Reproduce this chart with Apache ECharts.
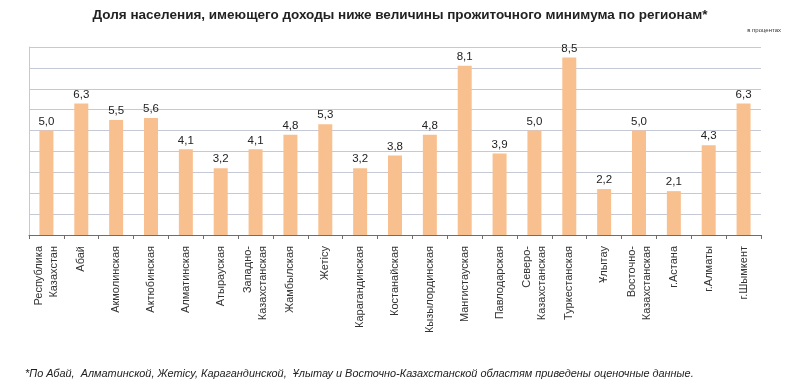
<!DOCTYPE html>
<html><head><meta charset="utf-8">
<script src="https://cdn.jsdelivr.net/npm/echarts@6/dist/echarts.min.js"></script>
<style>html,body{margin:0;padding:0;background:#fff}#c{width:800px;height:385px}</style>
</head><body><div id="c"></div>
<script>
const categories = ['Республика\nКазахстан','Абай','Акмолинская','Актюбинская','Алматинская','Атырауская','Западно-\nКазахстанская','Жамбылская','Жетісу','Карагандинская','Костанайская','Кызылординская','Мангистауская','Павлодарская','Северо-\nКазахстанская','Туркестанская','Ұлытау','Восточно-\nКазахстанская','г.Астана','г.Алматы','г.Шымкент'];
const values = [5.0,6.3,5.5,5.6,4.1,3.2,4.1,4.8,5.3,3.2,3.8,4.8,8.1,3.9,5.0,8.5,2.2,5.0,2.1,4.3,6.3];
const titleText = 'Доля населения, имеющего доходы ниже величины прожиточного минимума по регионам*';
const unitText = 'в процентах';
const footnoteText = '*По Абай,  Алматинской, Жетісу, Карагандинской,  Ұлытау и Восточно-Казахстанской областям приведены оценочные данные.';

const chart = echarts.init(document.getElementById('c'), null, {renderer:'canvas'});
chart.setOption({
  animation:false,
  title:[
    {text:titleText, left:'center', top:3, textStyle:{fontFamily:'Liberation Sans, Arial, sans-serif', fontSize:13.5, fontWeight:'bold', color:'#222'}},
    {text:unitText, right:14, top:22, textStyle:{fontFamily:'Liberation Sans, Arial, sans-serif', fontSize:6, fontWeight:'normal', color:'#333'}},
    {text:footnoteText, left:20, top:363, textStyle:{fontFamily:'Liberation Sans, Arial, sans-serif', fontSize:10.9, fontStyle:'italic', fontWeight:'normal', color:'#222'}}
  ],
  grid:{left:29, right:39, top:47, bottom:150, containLabel:false},
  xAxis:{
    type:'category', data:categories, boundaryGap:true,
    axisLine:{show:true, lineStyle:{color:'#6d6d6d', width:1}},
    axisTick:{show:true, interval:0, length:4, lineStyle:{color:'#6d6d6d'}},
    axisLabel:{interval:0, rotate:90, margin:11, fontFamily:'Liberation Sans, Arial, sans-serif', fontSize:11, color:'#333', lineHeight:15}
  },
  yAxis:{
    type:'value', min:0, max:9, interval:1,
    axisLabel:{show:false}, axisTick:{show:false},
    axisLine:{show:true, lineStyle:{color:'#c5c9d6'}},
    splitLine:{show:true, lineStyle:{color:'#c5c9d6', width:1}}
  },
  series:[{
    type:'bar', data:values, barWidth:14, itemStyle:{color:'#f9c08f'},
    label:{show:true, position:'top', distance:3, fontFamily:'Liberation Sans, Arial, sans-serif', fontSize:11.5, color:'#222',
      formatter:p=>p.value.toFixed(1).replace('.',',')}
  }]
});
</script></body></html>
